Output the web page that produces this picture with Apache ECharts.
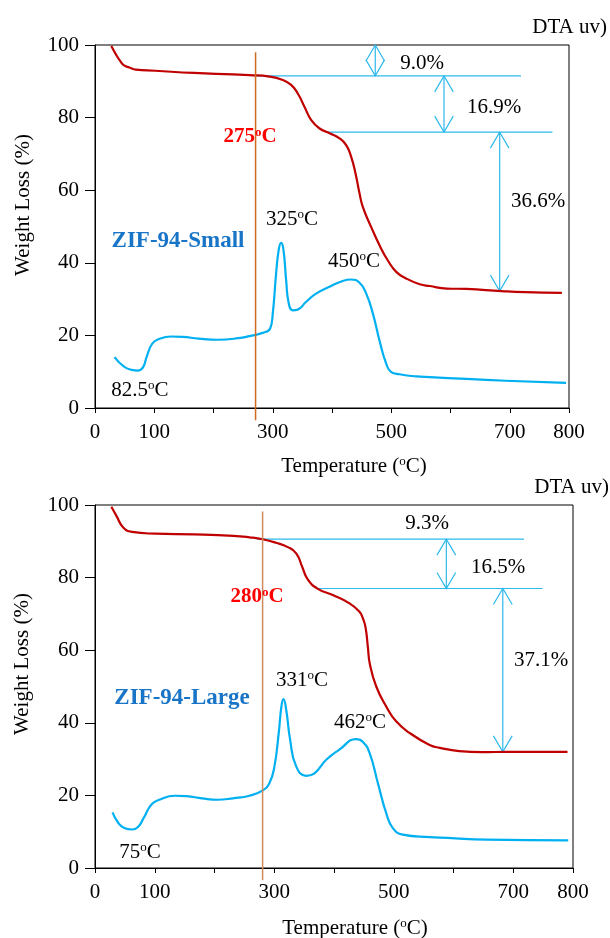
<!DOCTYPE html>
<html>
<head>
<meta charset="utf-8">
<title>ZIF-94 TGA / DTA</title>
<script src="https://cdn.jsdelivr.net/npm/echarts@6/dist/echarts.min.js"></script>
<style>
  html, body { margin: 0; padding: 0; background: #fff; }
  #chart { width: 610px; height: 938px; }
</style>
</head>
<body>
<div id="chart"></div>
<script>
// tick labels that are actually printed on the temperature axis
var tempLabels = [0, 100, 300, 500, 700, 800];

// ---- ZIF-94-Small ----
var smallTga = [
    [27.6, 99.7], [36, 97.2], [43, 95.5], [49, 94.4], [58, 93.8], [69, 93.2], [102, 92.9],
    [167, 92.3], [233, 91.9], [260.6, 91.7], [294.4, 91.3], [317, 90.35], [331, 89.0],
    [342, 86.7], [353.5, 83.0], [365, 79.3], [379, 77.0], [396, 75.7], [412.7, 74.3],
    [424, 72.4], [432.4, 69.2], [439.7, 64.6], [446.5, 59.1], [452, 55.4], [466, 49.9],
    [480, 44.9], [494, 40.7], [508.4, 37.5], [525, 35.7], [548, 34.1], [565, 33.6],
    [594, 32.9], [627, 32.8], [686, 32.2], [726, 31.9], [788, 31.7]
];
var smallDta = [
    [32.8, 14.0], [49, 11.4], [62, 10.5], [72, 10.3], [81, 11.2], [87, 14.0], [96.5, 17.7],
    [108, 19.0], [128, 19.7], [148, 19.6], [175, 19.1], [207, 18.8], [246, 19.3],
    [260.6, 19.8], [283, 20.7], [295.6, 21.9], [300, 26.0], [305.7, 37.1], [310, 43.5],
    [314, 45.5], [318, 43.7], [322.6, 35.2], [327, 28.8], [333.8, 26.9], [342, 27.1],
    [356, 29.2], [373, 31.5], [395.8, 33.4], [418, 35.0], [432, 35.4], [446.5, 34.5],
    [457.8, 31.5], [469, 26.0], [480, 18.7], [491.5, 12.2], [500, 9.9], [514, 9.3],
    [542, 8.7], [565, 8.5], [627, 8.0], [693, 7.5], [795, 6.9]
];
var smallOnset = [271, 98, -3.4];                         // [T, top, bottom]
var smallLevels = [[91.5, 272, 719], [76.0, 393, 772]];  // [weight, from T, to T]
var smallArrows = [[473, 100, 91.5], [589, 91.5, 76.0], [683, 76.0, 32.2]]; // [T, top, bottom]

// ---- ZIF-94-Large ----
var largeTga = [
    [27.4, 99.5], [35.9, 97.0], [47.6, 93.75], [62, 92.6], [101, 92.1], [166, 91.9],
    [231.5, 91.5], [258.5, 91.1], [280.8, 90.56], [303, 89.6], [322.6, 88.4], [336.7, 86.7],
    [346.7, 83.0], [356, 79.5], [373, 76.9], [398, 75.2], [426, 72.9], [442.7, 70.6],
    [448.3, 68.8], [452.8, 66.3], [456.6, 61.0], [460, 56.2], [470.7, 50.0], [487.4, 44.5],
    [504, 40.4], [526.5, 37.2], [560, 33.9], [577, 33.1], [609.5, 32.2], [648.6, 31.9],
    [687.7, 32.0], [790.8, 32.0]
];
var largeDta = [
    [29.3, 15.3], [39, 12.4], [49, 11.0], [62, 10.6], [72, 11.3], [81.5, 13.8], [94.5, 17.5],
    [107.6, 18.8], [133.6, 19.9], [153, 19.8], [179, 19.2], [205, 18.8], [231, 19.2],
    [258.5, 19.9], [280.8, 21.4], [292, 23.4], [300.3, 28.0], [307.5, 37.2], [312, 44.5],
    [315.4, 46.5], [320, 43.6], [326.6, 35.3], [336.7, 28.0], [353.4, 25.4], [367.3, 26.1],
    [387, 29.8], [409, 32.6], [437, 35.5], [448, 34.8], [459.5, 31.7], [473.4, 23.4],
    [487.4, 15.1], [498.5, 11.0], [515, 9.2], [560, 8.5], [590, 8.3], [655, 7.8], [792, 7.6]
];
var largeOnset = [280.5, 98.2, -3.4];
var largeLevels = [[90.6, 271, 718], [77.0, 373, 749]];
var largeArrows = [[588, 90.6, 77.0], [682.5, 77.0, 32.0]];

var FONT = '"Liberation Serif", "Times New Roman", serif';
var AQUA = '#2DB9EC';

// open chevron heads, size in data units (about 9 px wide, 16 px tall)
var HEAD_W = 15.7, HEAD_H = 4.4;

function annotationLines(levels, arrows) {
    var out = [];
    levels.forEach(function (l) {
        out.push({ coords: [[l[1], l[0]], [l[2], l[0]]] });
    });
    arrows.forEach(function (a) {
        var x = a[0], top = a[1], bot = a[2];
        out.push({ coords: [[x, top], [x, bot]] });
        out.push({ coords: [[x - HEAD_W, top - HEAD_H], [x, top], [x + HEAD_W, top - HEAD_H]] });
        out.push({ coords: [[x - HEAD_W, bot + HEAD_H], [x, bot], [x + HEAD_W, bot + HEAD_H]] });
    });
    return out;
}

function xAxisOf(idx) {
    return {
        type: 'value', gridIndex: idx, min: 0, max: 800, interval: 100,
        axisLine: { show: true, onZero: false, lineStyle: { color: '#000', width: 1 } },
        axisTick: { show: true, length: 5, lineStyle: { color: '#000' } },
        splitLine: { show: false },
        axisLabel: {
            color: '#000', fontFamily: FONT, fontSize: 21, margin: 14,
            showMinLabel: true, showMaxLabel: true,
            formatter: function (v) { return tempLabels.indexOf(v) >= 0 ? String(v) : ''; }
        }
    };
}

function yAxisOf(idx) {
    return {
        type: 'value', gridIndex: idx, min: 0, max: 100, interval: 20,
        axisLine: { show: true, lineStyle: { color: '#000', width: 1 } },
        axisTick: { show: true, length: 10, lineStyle: { color: '#000' } },
        splitLine: { show: false },
        axisLabel: { color: '#000', fontFamily: FONT, fontSize: 21, margin: 16,
            showMinLabel: true, showMaxLabel: true }
    };
}

function panelSeries(idx, tga, dta, onset, levels, arrows, onsetColor) {
    return [
        {
            type: 'line', xAxisIndex: idx, yAxisIndex: idx, data: tga,
            smooth: 0.5, symbol: 'none',
            lineStyle: { color: '#C00000', width: 2.2 }, z: 3
        },
        {
            type: 'line', xAxisIndex: idx, yAxisIndex: idx, data: dta,
            smooth: 0.5, symbol: 'none',
            lineStyle: { color: '#00B0F0', width: 2.2 }, z: 3
        },
        {
            type: 'line', xAxisIndex: idx, yAxisIndex: idx, clip: false, symbol: 'none',
            data: [[onset[0], onset[1]], [onset[0], onset[2]]],
            lineStyle: { color: onsetColor, width: 1.5 }, z: 4
        },
        {
            type: 'lines', coordinateSystem: 'cartesian2d', xAxisIndex: idx, yAxisIndex: idx,
            polyline: true, data: annotationLines(levels, arrows),
            lineStyle: { color: AQUA, width: 1.2, opacity: 1 }, z: 2
        }
    ];
}

// text with a superscript "o" written as {s|o}
function label(x, y, text, extra) {
    extra = extra || {};
    var size = extra.size || 21;
    return {
        type: 'text', x: x, y: y, rotation: extra.rotation || 0, z: 10,
        style: {
            text: text,
            fontFamily: FONT, fontSize: size, fontWeight: extra.bold ? 'bold' : 'normal',
            fill: extra.color || '#000',
            align: extra.align || 'center', verticalAlign: 'middle',
            rich: {
                s: {
                    fontFamily: FONT, fontSize: Math.round(size * 0.62),
                    fontWeight: extra.bold ? 'bold' : 'normal',
                    fill: extra.color || '#000', verticalAlign: 'top'
                }
            }
        }
    };
}

var chart = echarts.init(document.getElementById('chart'));

chart.setOption({
    animation: false,
    backgroundColor: '#fff',
    grid: [
        { left: 95, top: 45, width: 474, height: 363, show: true, borderColor: '#000', borderWidth: 1 },
        { left: 95, top: 505, width: 478, height: 363, show: true, borderColor: '#000', borderWidth: 1 }
    ],
    xAxis: [xAxisOf(0), xAxisOf(1)],
    yAxis: [yAxisOf(0), yAxisOf(1)],
    series: panelSeries(0, smallTga, smallDta, smallOnset, smallLevels, smallArrows, '#D06A22')
        .concat(panelSeries(1, largeTga, largeDta, largeOnset, largeLevels, largeArrows, '#D08A5E')),
    graphic: [
        // top panel
        label(607, 27, 'DTA uv)', { align: 'right' }),
        label(23, 205, 'Weight Loss (%)', { rotation: Math.PI / 2 }),
        label(354, 466, 'Temperature ({s|o}C)'),
        label(250, 137, '275{s|o}C', { bold: true, color: '#FF0000' }),
        label(292, 219, '325{s|o}C'),
        label(178, 241, 'ZIF-94-Small', { bold: true, color: '#1874C6', size: 23 }),
        label(354, 261, '450{s|o}C'),
        label(140, 390, '82.5{s|o}C'),
        label(422, 63, '9.0%'),
        label(494, 107, '16.9%'),
        label(538, 201, '36.6%'),
        // bottom panel
        label(609, 487, 'DTA uv)', { align: 'right' }),
        label(22, 664, 'Weight Loss (%)', { rotation: Math.PI / 2 }),
        label(355, 928, 'Temperature ({s|o}C)'),
        label(257, 597, '280{s|o}C', { bold: true, color: '#FF0000' }),
        label(302, 680, '331{s|o}C'),
        label(182, 698, 'ZIF-94-Large', { bold: true, color: '#1874C6', size: 23 }),
        label(360, 722, '462{s|o}C'),
        label(140, 852, '75{s|o}C'),
        label(427, 523, '9.3%'),
        label(498, 567, '16.5%'),
        label(541, 660, '37.1%')
    ]
});
</script>
</body>
</html>
